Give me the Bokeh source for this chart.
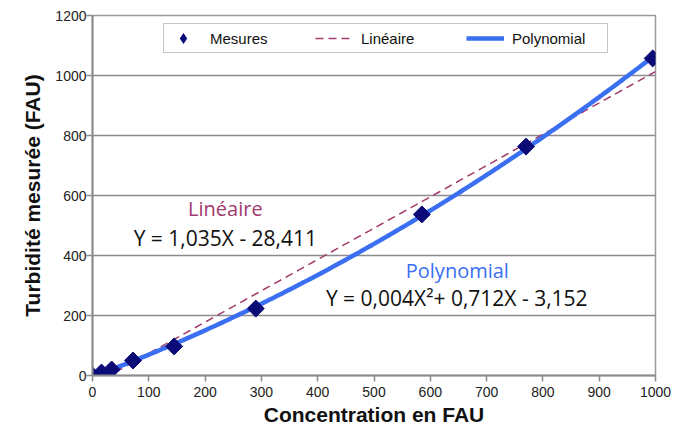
import numpy as np
from bokeh.plotting import figure
from bokeh.models import Legend, LegendItem, Label, ColumnDataSource, Range1d, FixedTicker
from bokeh.embed import file_html
from bokeh.resources import INLINE

# ---- data ----
concentration = [0, 16, 34, 72, 145, 290, 585, 770, 995]
turbidity = [0, 10, 20, 50, 97, 223, 537, 763, 1057]
x_ticks = [0, 100, 200, 300, 400, 500, 600, 700, 800, 900, 1000]
y_ticks = [0, 200, 400, 600, 800, 1000, 1200]
lin_label = "Linéaire"
lin_eq = "Y = 1,035X - 28,411"
poly_label = "Polynomial"
poly_eq = "Y = 0,004X²+ 0,712X - 3,152"

# trendlines fitted on the measured points
xs = np.array(concentration, dtype=float)
ys = np.array(turbidity, dtype=float)
lin_c = np.polyfit(xs, ys, 1)
poly_c = np.polyfit(xs, ys, 2)
xl = np.linspace(0, 1000, 200)
xp = np.linspace(0, 995, 200)

p = figure(frame_width=563, frame_height=360, output_backend="svg", toolbar_location=None,
           x_range=Range1d(0, 1000), y_range=Range1d(0, 1200),
           min_border_left=92, min_border_top=15, min_border_right=22, min_border_bottom=52)
p.background_fill_color = "white"
p.border_fill_color = "white"
p.outline_line_color = "#9a9a9a"
p.outline_line_width = 1.5

p.xgrid.grid_line_color = None
p.ygrid.grid_line_color = "#8c8c8c"
p.ygrid.grid_line_width = 1.5

for ax in (p.xaxis[0], p.yaxis[0]):
    ax.axis_line_color = "#8c8c8c"
    ax.axis_line_width = 2
    ax.major_tick_line_color = "#8c8c8c"
    ax.major_tick_line_width = 1.5
    ax.major_tick_in = 0
    ax.major_tick_out = 6
    ax.minor_tick_line_color = None
    ax.major_label_text_font = "Liberation Sans"
    ax.major_label_text_font_size = "14px"
    ax.major_label_text_color = "#222222"
    ax.axis_label_text_font = "Liberation Sans"
    ax.axis_label_text_font_style = "bold"
    ax.axis_label_text_font_size = "21px"
    ax.axis_label_text_color = "#111111"

p.xaxis.ticker = FixedTicker(ticks=x_ticks)
p.yaxis.ticker = FixedTicker(ticks=y_ticks)
p.xaxis.axis_label = "Concentration en FAU"
p.yaxis.axis_label = "Turbidité mesurée (FAU)"
p.xaxis.major_label_standoff = 5
p.yaxis.major_label_standoff = 0
p.xaxis.axis_label_standoff = 3
p.yaxis.axis_label_standoff = 8

navy = "#0b0b78"
r_lin = p.line(xl, np.polyval(lin_c, xl), line_color="#a23b6c", line_width=1.5, line_dash="8 5")
r_poly = p.line(xp, np.polyval(poly_c, xp), line_color="#3a6ff2", line_width=4.5)
src = ColumnDataSource(dict(x=concentration, y=turbidity))
r_pts = p.scatter("x", "y", source=src, marker="square", angle=np.pi / 4, size=12,
                  fill_color=navy, line_color=navy)
# legend-only glyph: zero size in the plot, the legend sizes it itself
r_leg = p.scatter("x", "y", source=src, marker="diamond", size=0,
                  fill_color=navy, line_color=None)

legend = Legend(items=[LegendItem(label="Mesures", renderers=[r_leg]),
                       LegendItem(label="Linéaire", renderers=[r_lin]),
                       LegendItem(label="Polynomial", renderers=[r_poly])],
                orientation="horizontal", location=(71, 322), margin=0,
                padding=0, spacing=10, glyph_width=38, glyph_height=28,
                label_width=95, label_standoff=8,
                label_text_font="Liberation Sans", label_text_font_size="15px",
                label_text_color="#111111", border_line_color="#8c8c8c",
                border_line_width=1.5, background_fill_color="white", background_fill_alpha=1)
p.add_layout(legend)

font = "Open Sans"
p.add_layout(Label(x=236, y=557, text=lin_label, text_align="center", text_baseline="middle",
                   text_font=font, text_font_size="20px", text_color="#a23b6c"))
p.add_layout(Label(x=236, y=460, text=lin_eq, text_align="center", text_baseline="middle",
                   text_font=font, text_font_size="21px", text_color="#111111"))
p.add_layout(Label(x=648, y=350, text=poly_label, text_align="center", text_baseline="middle",
                   text_font=font, text_font_size="20px", text_color="#3a6ff2"))
p.add_layout(Label(x=647, y=257, text=poly_eq, text_align="center", text_baseline="middle",
                   text_font=font, text_font_size="21px", text_color="#111111"))

open("out.html", "w").write(file_html(p, INLINE))
